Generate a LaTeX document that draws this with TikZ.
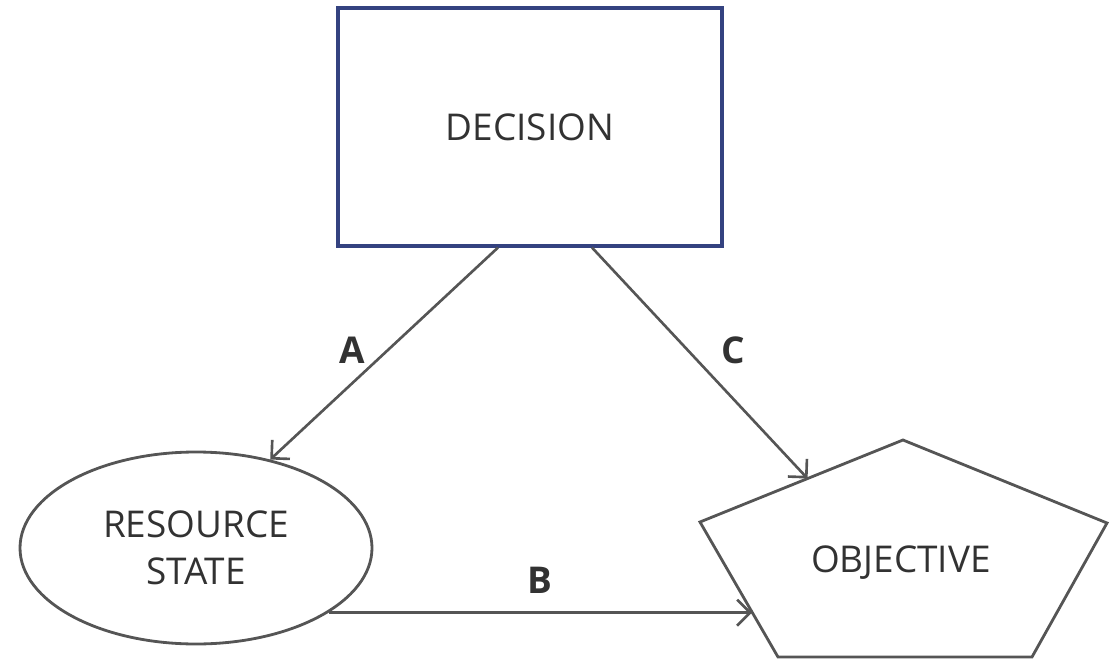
\documentclass[tikz,border=0pt]{standalone}
\usepackage{fontspec}
\setmainfont{Open Sans}
\usetikzlibrary{shapes,arrows.meta,positioning,calc}
\definecolor{decblue}{RGB}{52,66,128}
\definecolor{linegray}{RGB}{85,85,85}
\definecolor{textgray}{RGB}{50,50,50}

\begin{document}
\begin{tikzpicture}[
    every node/.style={text=textgray, font=\fontsize{10.5}{13.5}\selectfont},
    box/.style={rectangle, draw=decblue, line width=0.9pt, minimum width=3.84cm, minimum height=2.38cm, align=center},
    state/.style={ellipse, draw=linegray, line width=0.8pt, minimum width=3.52cm, minimum height=1.92cm, align=center, inner sep=0pt},
    link/.style={draw=linegray, line width=0.75pt, -{Straight Barb[length=1.3mm,width=2.6mm]}},
    tag/.style={font=\fontsize{10.5}{13.5}\selectfont\bfseries},
]
    \useasboundingbox (0,0) rectangle (11.13,6.60);

    % Nodes
    \node[box] (decision) at (5.30,5.33) {DECISION};

    \node[state] (resource) at (1.96,1.12) {RESOURCE\\STATE};

    % Objective pentagon
    \coordinate (pt)  at (9.03,2.20);
    \coordinate (pl)  at (7.00,1.38);
    \coordinate (pr)  at (11.07,1.37);
    \coordinate (pbl) at (7.78,0.03);
    \coordinate (pbr) at (10.32,0.03);
    \draw[linegray, line width=0.8pt, line join=miter] (pt) -- (pr) -- (pbr) -- (pbl) -- (pl) -- cycle;
    \node (objective) at (9.01,0.97) {OBJECTIVE};
    \coordinate (objC) at ($(pl)!0.53!(pt)$);
    \coordinate (objB) at ($(pl)!0.667!(pbl)$);

    % Links
    \draw[link] ([xshift=-0.32cm]decision.south) -- (resource.50);
    \draw[link] ([xshift=0.62cm]decision.south) -- (objC);
    \draw[link] (resource.-26) -- (resource.-26 -| objB);

    \node[tag] (labA) at (3.52,3.10) {A};
    \node[tag] (labC) at (7.33,3.10) {C};
    \node[tag] (labB) at (5.40,0.80) {B};
\end{tikzpicture}
\end{document}
